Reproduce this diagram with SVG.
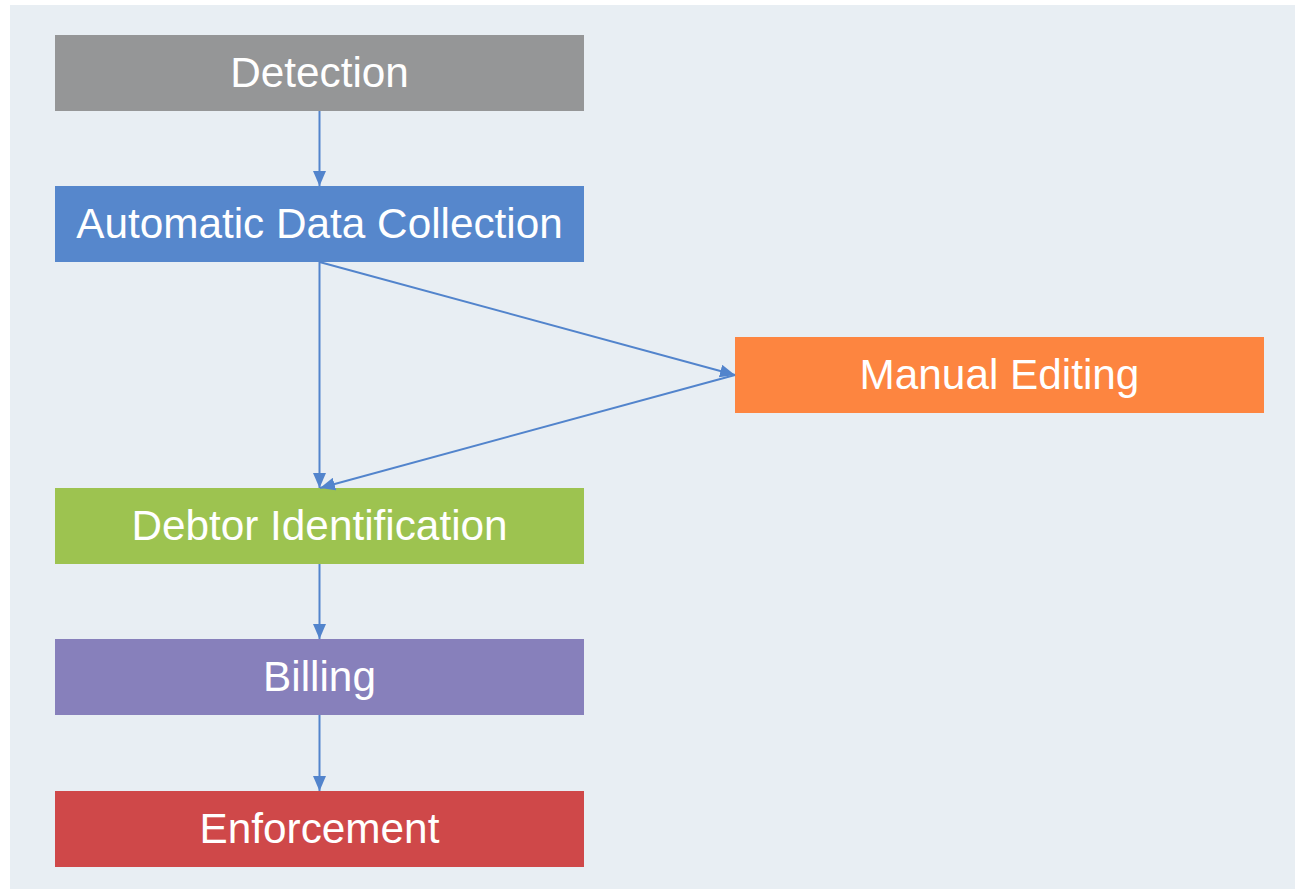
<svg xmlns="http://www.w3.org/2000/svg" width="1297" height="889" viewBox="0 0 1297 889">
  <style>
    .box text { font-family: "Liberation Sans", Arial, sans-serif; font-size: 42.3px; fill: #ffffff; text-anchor: middle; }
    .edge { stroke: #5284cc; stroke-width: 2; fill: none; marker-end: url(#arrow); }
  </style>
  <defs>
    <marker id="arrow" viewBox="0 0 15 13" refX="15" refY="6.5" markerWidth="15" markerHeight="13" markerUnits="userSpaceOnUse" orient="auto">
      <path d="M0,0 L15,6.5 L0,13 Z" fill="#5284cc"/>
    </marker>
  </defs>

  <!-- canvas -->
  <rect x="0" y="0" width="1297" height="889" fill="#ffffff"/>
  <rect x="10" y="5" width="1285" height="884" fill="#e8eef3"/>

  <g id="detection" class="box">
    <rect x="55" y="35" width="529" height="76" fill="#959697"/>
    <text x="319.5" y="86.8">Detection</text>
  </g>
  <g id="automatic-data-collection" class="box">
    <rect x="55" y="186" width="529" height="76" fill="#5687cc"/>
    <text x="319.5" y="237.8">Automatic Data Collection</text>
  </g>
  <g id="manual-editing" class="box">
    <rect x="735" y="337" width="529" height="76" fill="#fd8540"/>
    <text x="999.5" y="388.8">Manual Editing</text>
  </g>
  <g id="debtor-identification" class="box">
    <rect x="55" y="488" width="529" height="76" fill="#9dc350"/>
    <text x="319.5" y="539.8">Debtor Identification</text>
  </g>
  <g id="billing" class="box">
    <rect x="55" y="639" width="529" height="76" fill="#8780bb"/>
    <text x="319.5" y="690.8">Billing</text>
  </g>
  <g id="enforcement" class="box">
    <rect x="55" y="791" width="529" height="76" fill="#cf4849"/>
    <text x="319.5" y="842.8">Enforcement</text>
  </g>

  <g id="connectors">
    <line class="edge" x1="319.5" y1="111" x2="319.5" y2="186"/>
    <line class="edge" x1="319.5" y1="262" x2="319.5" y2="488"/>
    <line class="edge" x1="319.5" y1="262" x2="735" y2="375"/>
    <line class="edge" x1="735" y1="375" x2="320" y2="488"/>
    <line class="edge" x1="319.5" y1="564" x2="319.5" y2="639"/>
    <line class="edge" x1="319.5" y1="715" x2="319.5" y2="791"/>
  </g>
</svg>
